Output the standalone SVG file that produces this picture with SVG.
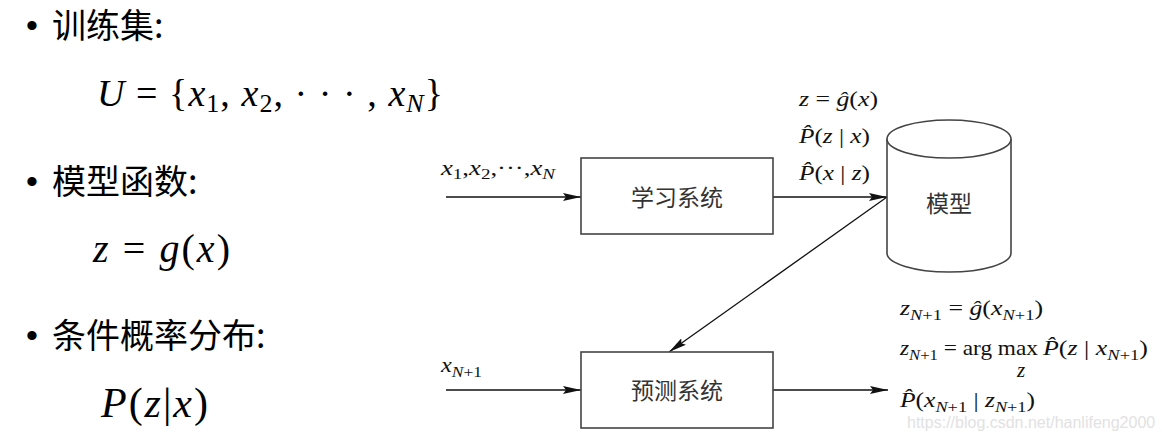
<svg xmlns="http://www.w3.org/2000/svg" width="1162" height="441" viewBox="0 0 1162 441">
<style>
.cjk{font-family:"Noto Sans CJK SC","Noto Sans",sans-serif;fill:#000}
.bul{font-family:"Liberation Sans",sans-serif;fill:#000}
.tex{font-family:"Liberation Serif","DejaVu Serif",serif;fill:#000}
.it{font-style:italic}
.box{fill:#fff;stroke:#444;stroke-width:1.6}
.lbl{font-family:"Noto Sans CJK SC",sans-serif;font-size:23px;fill:#333;text-anchor:middle}
.conn{stroke:#111;stroke-width:1.3;fill:none}
.m{font-family:"Liberation Serif",serif;font-size:21px;fill:#111}
.s{font-size:15px}
.wm{font-family:"Liberation Sans",sans-serif;font-size:16px;fill:#e2e2e2}
</style>
<defs>
<marker id="ah" viewBox="0 0 18 8" refX="18" refY="4" markerWidth="18" markerHeight="8" markerUnits="userSpaceOnUse" orient="auto">
<path d="M0,0 L18,4 L0,8 L3,4 Z" fill="#111"/>
</marker>
</defs>

<g id="left-text">
<text class="bul" x="26" y="37" font-size="34">•</text>
<text class="cjk" x="52" y="38" font-size="34">训练集:</text>
<text class="tex" x="97" y="106" font-size="38" textLength="346" lengthAdjust="spacing"><tspan class="it">U</tspan> = {<tspan class="it">x</tspan><tspan font-size="26" dy="6">1</tspan><tspan dy="-6">, </tspan><tspan class="it">x</tspan><tspan font-size="26" dy="6">2</tspan><tspan dy="-6">, · · · , </tspan><tspan class="it">x</tspan><tspan class="it" font-size="26" dy="6">N</tspan><tspan dy="-6">}</tspan></text>
<text class="bul" x="26" y="193" font-size="34">•</text>
<text class="cjk" x="52" y="194" font-size="34">模型函数:</text>
<text class="tex" x="93" y="262" font-size="40" textLength="137" lengthAdjust="spacing"><tspan class="it">z</tspan> = <tspan class="it">g</tspan>(<tspan class="it">x</tspan>)</text>
<text class="bul" x="26" y="347" font-size="34">•</text>
<text class="cjk" x="52" y="348" font-size="34">条件概率分布:</text>
<text class="tex" x="101" y="417" font-size="42" textLength="107" lengthAdjust="spacing"><tspan class="it">P</tspan>(<tspan class="it">z</tspan>|<tspan class="it">x</tspan>)</text>
</g>

<g id="connectors">
<line class="conn" x1="446" y1="197" x2="581" y2="197" marker-end="url(#ah)"/>
<line class="conn" x1="773" y1="197" x2="887" y2="197" marker-end="url(#ah)"/>
<line class="conn" x1="887" y1="197" x2="669" y2="352" marker-end="url(#ah)"/>
<line class="conn" x1="446" y1="390" x2="581" y2="390" marker-end="url(#ah)"/>
<line class="conn" x1="773" y1="390" x2="888" y2="390" marker-end="url(#ah)"/>
</g>

<g id="learn">
<rect class="box" x="581" y="158" width="192" height="76"/>
<text class="lbl" x="677" y="206">学习系统</text>
</g>

<g id="predict">
<rect class="box" x="581" y="352" width="192" height="76"/>
<text class="lbl" x="677" y="399">预测系统</text>
</g>

<g id="model">
<path class="box" d="M887,139 L887,253 A62,19 0 0 0 1011,253 L1011,139 A62,19 0 0 0 887,139 Z"/>
<path class="box" fill="none" d="M887,139 A62,19 0 0 0 1011,139"/>
<text class="lbl" x="949" y="212">模型</text>
</g>

<g id="labels">
<text class="m" x="441" y="175" textLength="114" lengthAdjust="spacingAndGlyphs"><tspan class="it">x</tspan><tspan class="s" dy="4">1</tspan><tspan dy="-4">,</tspan><tspan class="it">x</tspan><tspan class="s" dy="4">2</tspan><tspan dy="-4">,···,</tspan><tspan class="it">x</tspan><tspan class="it s" dy="4">N</tspan></text>
<text class="m" x="441" y="372" textLength="41" lengthAdjust="spacingAndGlyphs"><tspan class="it">x</tspan><tspan class="it s" dy="5">N</tspan><tspan class="s">+1</tspan></text>
<text class="m" x="799" y="106" textLength="79" lengthAdjust="spacingAndGlyphs"><tspan class="it">z</tspan> = <tspan class="it">ĝ</tspan>(<tspan class="it">x</tspan>)</text>
<text class="m" x="799" y="143" textLength="71" lengthAdjust="spacingAndGlyphs"><tspan class="it">P̂</tspan>(<tspan class="it">z</tspan> | <tspan class="it">x</tspan>)</text>
<text class="m" x="799" y="180" textLength="71" lengthAdjust="spacingAndGlyphs"><tspan class="it">P̂</tspan>(<tspan class="it">x</tspan> | <tspan class="it">z</tspan>)</text>
<text class="m" x="900" y="315" textLength="143" lengthAdjust="spacingAndGlyphs"><tspan class="it">z</tspan><tspan class="it s" dy="5">N</tspan><tspan class="s">+1</tspan><tspan dy="-5"> = </tspan><tspan class="it">ĝ</tspan>(<tspan class="it">x</tspan><tspan class="it s" dy="5">N</tspan><tspan class="s">+1</tspan><tspan dy="-5">)</tspan></text>
<text class="m" x="900" y="355" textLength="138" lengthAdjust="spacingAndGlyphs"><tspan class="it">z</tspan><tspan class="it s" dy="5">N</tspan><tspan class="s">+1</tspan><tspan dy="-5"> = arg max</tspan></text>
<text class="m" x="1043" y="355" textLength="105" lengthAdjust="spacingAndGlyphs"><tspan class="it">P̂</tspan>(<tspan class="it">z</tspan> | <tspan class="it">x</tspan><tspan class="it s" dy="5">N</tspan><tspan class="s">+1</tspan><tspan dy="-5">)</tspan></text>
<text class="m it" x="1021" y="377" font-size="12" text-anchor="middle">z</text>
<text class="m" x="900" y="407" textLength="135" lengthAdjust="spacingAndGlyphs"><tspan class="it">P̂</tspan>(<tspan class="it">x</tspan><tspan class="it s" dy="5">N</tspan><tspan class="s">+1</tspan><tspan dy="-5"> | </tspan><tspan class="it">z</tspan><tspan class="it s" dy="5">N</tspan><tspan class="s">+1</tspan><tspan dy="-5">)</tspan></text>
<text class="wm" x="907" y="428">https://blog.csdn.net/hanlifeng2000</text>
</g>
</svg>
